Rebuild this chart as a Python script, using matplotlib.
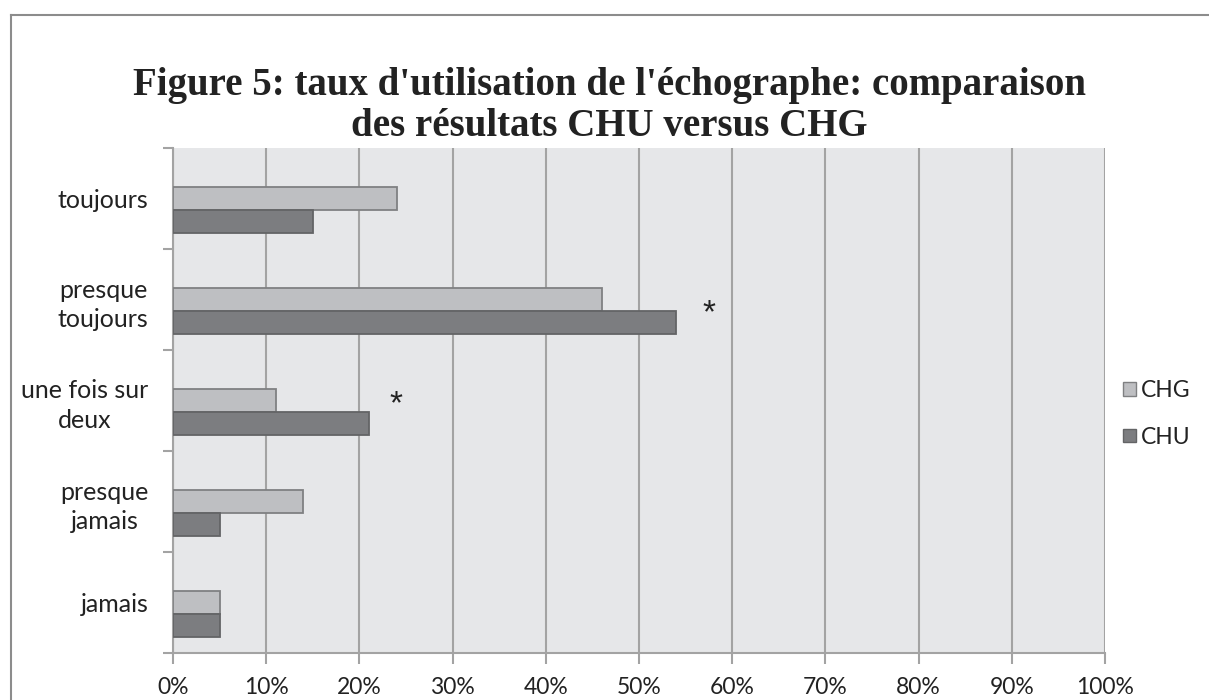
import matplotlib
matplotlib.use("Agg")
import matplotlib.pyplot as plt
import numpy as np
from matplotlib.lines import Line2D
from matplotlib.patches import Patch

categories = ["toujours", "presque\ntoujours", "une fois sur\ndeux", "presque\njamais", "jamais"]
chg = [24, 46, 11, 14, 5]
chu = [15, 54, 21, 5, 5]
series_names = ["CHG", "CHU"]
xticks = list(range(0, 101, 10))
xtick_labels = [f"{v}%" for v in xticks]
star_x = [57.5, 23.9]
star_y = [1.14, 2.045]
title = "Figure 5: taux d'utilisation de l'échographe: comparaison\ndes résultats CHU versus CHG"

c_chg, e_chg = "#BEBFC2", "#7F8082"
c_chu, e_chu = "#7C7D80", "#636466"
bg = "#E6E7E9"
grid_c = "#A3A3A3"
txt_c = "#222222"
sans = ["Lato", "DejaVu Sans"]

fig = plt.figure(figsize=(12.09, 7.0), dpi=100)
ax = fig.add_axes([173/1209, 1-653/700, (1105-173)/1209, (653-148)/700])
ax.set_facecolor(bg)

y = np.arange(len(categories))
h = 0.225
ax.barh(y, chg, height=h, color=c_chg, edgecolor=e_chg, linewidth=1.3, zorder=3)
ax.barh(y + h, chu, height=h, color=c_chu, edgecolor=e_chu, linewidth=1.3, zorder=3)

for sx, sy in zip(star_x, star_y):
    ax.text(sx, sy, "*", ha="center", va="center", fontsize=24, color=txt_c,
            family=["Liberation Sans", "DejaVu Sans"])

ax.set_xlim(0, 100)
ax.set_ylim(len(categories) - 0.5, -0.5)
ax.set_xticks(xticks)
ax.set_xticklabels(xtick_labels, fontsize=16.5, color=txt_c, family=sans)
ax.xaxis.grid(True, color=grid_c, linewidth=1.5, zorder=0)
ax.set_axisbelow(True)

ax.set_yticks(np.arange(len(categories) + 1) - 0.5)
ax.set_yticklabels([])
ax.set_yticks(y, minor=True)
ax.set_yticklabels(categories, minor=True, fontsize=18, color=txt_c, family=sans,
                   multialignment="center", linespacing=1.35)
ax.tick_params(axis="y", which="minor", length=0, pad=17.5)
ax.tick_params(axis="y", which="major", length=7, color=grid_c, width=1.5)
ax.tick_params(axis="x", length=8, color=grid_c, width=1.5, pad=9)

for s in ["top", "right"]:
    ax.spines[s].set_visible(False)
for s in ["left", "bottom"]:
    ax.spines[s].set_color(grid_c)
    ax.spines[s].set_linewidth(1.5)

handles = [Patch(facecolor=c_chg, edgecolor=e_chg, label=series_names[0]),
           Patch(facecolor=c_chu, edgecolor=e_chu, label=series_names[1])]
leg = fig.legend(handles=handles, loc="center left", bbox_to_anchor=(1123/1209, 1-414/700),
                 frameon=False, prop={"family": sans, "size": 16.5}, handlelength=0.55,
                 handleheight=0.55, handletextpad=0.25, labelspacing=1.1, labelcolor=txt_c,
                 borderaxespad=0, borderpad=0)

fig.text(0.504, 1-106/700, title, ha="center", va="center", fontsize=28,
         fontweight="bold", family="Liberation Serif", color=txt_c, linespacing=1.17)

fig.add_artist(Line2D([11/1209, 11/1209], [0, 1-15/700], color="#8C8C8C", linewidth=1.5))
fig.add_artist(Line2D([11/1209, 1], [1-15/700, 1-15/700], color="#8C8C8C", linewidth=1.5))

fig.savefig("out.png", dpi=100, facecolor="white")
